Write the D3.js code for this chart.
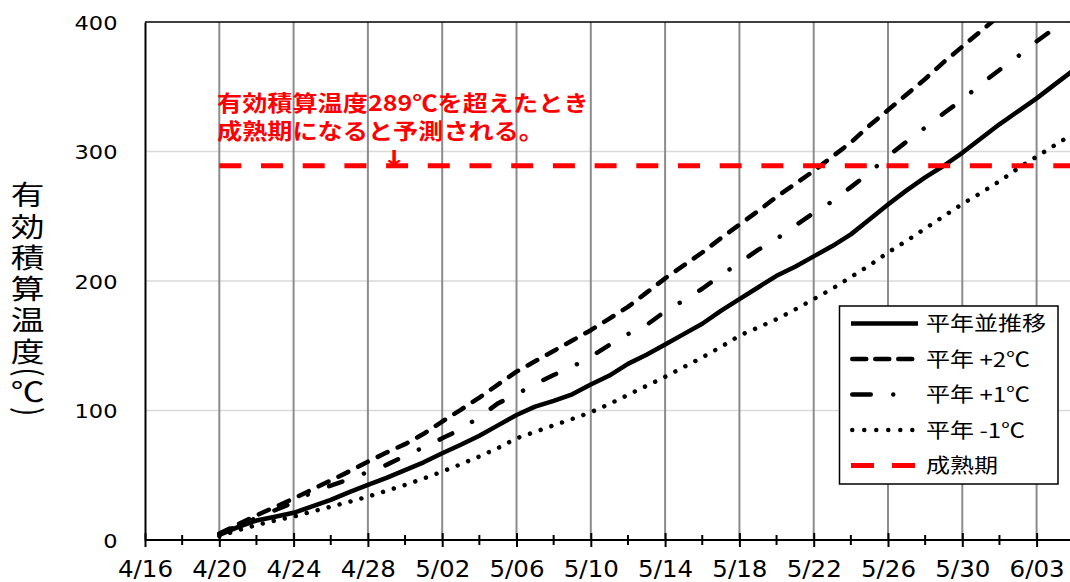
<!DOCTYPE html>
<html><head><meta charset="utf-8">
<script src="https://cdn.jsdelivr.net/npm/d3@7"></script>
<style>body{margin:0;background:#fff}svg{display:block}</style>
</head><body>
<svg id="c" width="1070" height="582"></svg>
<script>
// ---------- data ----------
const dates = ["4/20","4/21","4/22","4/23","4/24","4/25","4/26","4/27","4/28","4/29","4/30",
  "5/01","5/02","5/03","5/04","5/05","5/06","5/07","5/08","5/09","5/10","5/11","5/12","5/13","5/14","5/15",
  "5/16","5/17","5/18","5/19","5/20","5/21","5/22","5/23","5/24","5/25","5/26","5/27","5/28","5/29","5/30","5/31",
  "6/01","6/02","6/03","6/04","6/05"];
const normal = [4,10,15,18,21,26,31,37,42.5,48,54,60,67,73.5,80.5,88.5,96.5,103,107.5,112.5,120,127,136,143,151,
  159,167,177,186,195,204,211,219,227,236,247.5,259,270,280,289,299,310,321,331,341,352,363];
const plus2 = [5,12,19,25.5,32,39,46,53,60.5,67.5,74,82,91.5,100.5,110,120,130,138,146,154,162,171,180,191,202,
  212,222,233,243.5,254,265,275,285,296,307,320,332,344,356,369,381,393,405,416,428,439,450];
const plus1 = [4.5,11,17,23,29,37,42,47,52.5,58,65,71.5,78.5,85.5,95,105.5,112.5,120.5,127.4,133.8,141.5,150.6,159,166,176.5,
  185,194,204.5,214,224,232.5,242.7,252.5,261.5,272.5,283.5,296.5,307.6,318.5,329.5,340,352,363,373.5,385,395.5,405];
const minus1 = [3,7.5,11.5,15,18,22,25.7,29.5,33.5,38,42.5,47.5,52.8,58.5,64.5,71,78.5,83.5,88.5,93.5,98.6,105,112,119,126,
  133.5,141,149,157.8,164,170.5,178,186,194,203,212,222,231,240.5,250,259.5,268,277,287,296,305,314];
const maturity = 289;
const seriesNames = ["平年並推移","平年 +2℃","平年 +1℃","平年 -1℃","成熟期"];
const xTickLabels = ["4/16","4/20","4/24","4/28","5/02","5/06","5/10","5/14","5/18","5/22","5/26","5/30","6/03"];
const xDomainLabels = ["4/16","6/05"];
const yTicks = [0,100,200,300,400];
const yTitle = "有効積算温度（℃）";
const annotationLines = ["有効積算温度289℃を超えたとき","成熟期になると予測される。"];
const arrowText = "↓";

// ---------- setup ----------
const parseDate = s => { const [m,d] = s.split("/").map(Number); return new Date(2024, m-1, d); };
const svg = d3.select("#c");
const L = 145, T = 22, B = 540, R = 145 + 50*18.575;
const x = d3.scaleTime().domain(xDomainLabels.map(parseDate)).range([L, R]);
const y = d3.scaleLinear().domain([0,400]).range([B, T]);
const JP = "'Noto Sans CJK JP','Noto Sans CJK SC',sans-serif";
const NUM = "'DejaVu Sans',sans-serif";

function stretch(sel, k){
  sel.each(function(){
    const w = this.getComputedTextLength();
    this.setAttribute("textLength", w*k);
    this.setAttribute("lengthAdjust","spacingAndGlyphs");
  });
}

svg.append("defs").append("clipPath").attr("id","plot")
  .append("rect").attr("x",L).attr("y",T).attr("width",R-L).attr("height",B-T);

// gridlines
svg.append("g").selectAll("line").data(yTicks.filter(v=>v>0 && v<400)).join("line")
  .attr("x1",L).attr("x2",R).attr("y1",d=>y(d)).attr("y2",d=>y(d))
  .attr("stroke","#d9d9d9").attr("stroke-width",1.5);
svg.append("g").selectAll("line").data(xTickLabels.slice(1).map(parseDate)).join("line")
  .attr("x1",d=>x(d)).attr("x2",d=>x(d)).attr("y1",T).attr("y2",B)
  .attr("stroke","#8c8c8c").attr("stroke-width",2);

// top border
svg.append("line").attr("x1",L).attr("x2",R).attr("y1",T).attr("y2",T)
  .attr("stroke","#000").attr("stroke-width",1.5);

// series
const styles = [
  {data: normal, width:4.5, dash:null, cap:"butt", color:"#000"},
  {data: plus2, width:4.5, dash:"11,11", cap:"round", color:"#000"},
  {data: plus1, width:4.5, dash:"14,23,0.01,23", cap:"round", color:"#000"},
  {data: minus1, width:4.5, dash:"0.01,11.3", cap:"round", color:"#000"},
  {data: dates.map(()=>maturity), width:5, dash:"22,19.7", cap:"butt", color:"#ff0000"}
];
const line = d3.line().x((v,i)=>x(parseDate(dates[i]))).y(v=>y(v)).curve(d3.curveLinear);
const gS = svg.append("g").attr("clip-path","url(#plot)");
styles.forEach(s=>{
  gS.append("path").datum(s.data).attr("d",line)
    .attr("fill","none").attr("stroke",s.color).attr("stroke-width",s.width)
    .attr("stroke-dasharray",s.dash).attr("stroke-linecap",s.cap).attr("stroke-linejoin","round");
});

// x axis
const gx = svg.append("g").attr("transform",`translate(0,${B})`)
  .call(d3.axisBottom(x).tickValues(xTickLabels.map(parseDate)).tickFormat((d,i)=>xTickLabels[i]).tickSizeOuter(0));
gx.select(".domain").attr("stroke","#000").attr("stroke-width",2).attr("d",`M${L},0H${R}`);
gx.selectAll(".tick line").attr("y1",-7).attr("y2",7).attr("stroke","#000").attr("stroke-width",2);
gx.selectAll(".tick text").attr("y",37).attr("dy",0).attr("fill","#000")
  .style("font-family",NUM).style("font-size","22.5px");
stretch(gx.selectAll(".tick text"), 1.09);
// minor ticks (every 2 days between labelled ticks)
const minor = d3.timeDay.range(parseDate("4/18"), parseDate("6/06"), 4);
gx.append("g").selectAll("line").data(minor).join("line")
  .attr("x1",d=>x(d)).attr("x2",d=>x(d)).attr("y1",-5).attr("y2",5)
  .attr("stroke","#000").attr("stroke-width",2);

// y axis
const gy = svg.append("g").attr("transform",`translate(${L},0)`)
  .call(d3.axisLeft(y).tickValues(yTicks).tickSize(0).tickPadding(27.5));
gy.select(".domain").attr("stroke","#000").attr("stroke-width",2);
gy.selectAll(".tick text").attr("dy",0).attr("y",7.3).attr("fill","#000")
  .style("font-family",NUM).style("font-size","20px");
stretch(gy.selectAll(".tick text"), 1.125);

// y title: one text element, each glyph placed via x/y lists (stacked vertically)
const fs = 27;
const chars = Array.from(yTitle).map(c => c==="（" ? "(" : (c==="）" ? ")" : c));
const centers = [195,226.5,257.5,288.5,320,352,372.5,392,411];
const xs = [], ys = [], rots = [];
chars.forEach((c,i)=>{
  if (c==="(") { xs.push(-8.5); ys.push(centers[i]-5); rots.push(90); }
  else if (c===")") { xs.push(-8.5); ys.push(centers[i]-4); rots.push(90); }
  else { xs.push(-fs/2); ys.push(centers[i]+10.3); rots.push(0); }
});
svg.append("text").text(chars.join(""))
  .attr("x", xs.join(" ")).attr("y", ys.join(" ")).attr("rotate", rots.join(" "))
  .attr("transform","translate(27.5,0) scale(1.25,1)")
  .attr("fill","#000").style("font-family",JP).style("font-size",fs+"px");

// annotation
const ga = svg.append("g").style("font-family",JP).style("font-weight","700").attr("fill","#ff0000");
const a1 = ga.append("text").text(annotationLines[0]).attr("x",217).attr("y",110.5).style("font-size","21.5px");
const a2 = ga.append("text").text(annotationLines[1]).attr("x",217).attr("y",139).style("font-size","21.5px");
stretch(a1, 1.17); stretch(a2, 1.17);
const ar = ga.append("text").text(arrowText).attr("x",394).attr("y",164.5)
  .attr("text-anchor","middle").style("font-family","'DejaVu Sans',sans-serif").style("font-size","20.5px");
stretch(ar, 1.45);

// legend
const lg = svg.append("g");
lg.append("rect").attr("x",839.5).attr("y",306).attr("width",218.5).attr("height",178)
  .attr("fill","#fff").attr("stroke","#000").attr("stroke-width",1.5);
const legDash = [null,"14,9","18.5,22.5,0.01,60","0.01,12","23,18"];
const legX = [[851,918],[852.25,914.5],[852.25,918],[852.25,914],[851,916]];
seriesNames.forEach((n,i)=>{
  const yy = 323.5 + i*35.5;
  lg.append("line").attr("x1",legX[i][0]).attr("x2",legX[i][1]).attr("y1",yy).attr("y2",yy)
    .attr("stroke",styles[i].color).attr("stroke-width",styles[i].width)
    .attr("stroke-dasharray",legDash[i]).attr("stroke-linecap",styles[i].cap);
  const t = lg.append("text").text(n).attr("x",926).attr("y",yy+7.6)
    .style("font-family",JP).style("font-size","20px").attr("fill","#000");
  stretch(t, 1.2);
});
</script>
</body></html>
